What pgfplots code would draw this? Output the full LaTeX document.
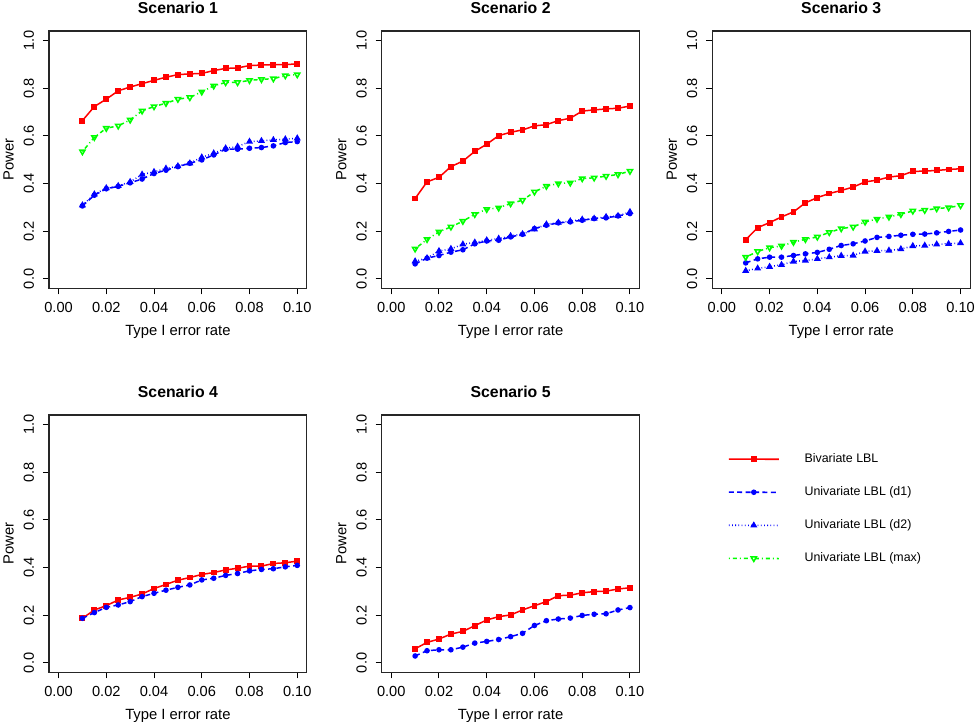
\documentclass[border=0pt]{standalone}
\usepackage{fontspec}
\setmainfont{Liberation Sans}
\usepackage{pgfplots}
\usepackage{pgfplotstable}
\pgfplotsset{compat=1.18}
\definecolor{rred}{RGB}{255,0,0}
\definecolor{rblue}{RGB}{0,0,255}
\definecolor{rgreen}{RGB}{0,255,0}

\pgfplotstableread{
x biv d1 d2 mx
0.010 0.664 0.306 0.309 0.534
0.015 0.723 0.351 0.355 0.594
0.020 0.754 0.378 0.381 0.632
0.025 0.789 0.388 0.390 0.642
0.030 0.805 0.403 0.407 0.667
0.035 0.819 0.419 0.438 0.705
0.040 0.833 0.442 0.449 0.723
0.045 0.846 0.456 0.463 0.737
0.050 0.857 0.471 0.473 0.754
0.055 0.860 0.485 0.485 0.761
0.060 0.862 0.499 0.510 0.785
0.065 0.874 0.520 0.527 0.810
0.070 0.883 0.544 0.548 0.824
0.075 0.885 0.544 0.555 0.824
0.080 0.895 0.548 0.576 0.833
0.085 0.897 0.551 0.579 0.837
0.090 0.899 0.558 0.583 0.840
0.095 0.899 0.572 0.586 0.853
0.100 0.902 0.576 0.590 0.857
}\scA
\pgfplotstableread{
x biv d1 d2 mx
0.010 0.337 0.063 0.074 0.126
0.015 0.407 0.087 0.087 0.166
0.020 0.426 0.098 0.117 0.197
0.025 0.471 0.112 0.126 0.218
0.030 0.494 0.122 0.145 0.242
0.035 0.535 0.147 0.153 0.271
0.040 0.565 0.159 0.162 0.292
0.045 0.601 0.162 0.169 0.298
0.050 0.615 0.176 0.180 0.316
0.055 0.625 0.187 0.188 0.330
0.060 0.642 0.211 0.208 0.365
0.065 0.647 0.225 0.229 0.389
0.070 0.664 0.235 0.236 0.400
0.075 0.674 0.239 0.242 0.403
0.080 0.704 0.246 0.249 0.421
0.085 0.709 0.253 0.253 0.424
0.090 0.713 0.256 0.260 0.431
0.095 0.716 0.264 0.264 0.438
0.100 0.725 0.274 0.281 0.452
}\scB
\pgfplotstableread{
x biv d1 d2 mx
0.010 0.164 0.067 0.034 0.091
0.015 0.215 0.084 0.044 0.115
0.020 0.236 0.091 0.051 0.131
0.025 0.260 0.091 0.059 0.138
0.030 0.281 0.098 0.073 0.154
0.035 0.319 0.105 0.077 0.166
0.040 0.341 0.111 0.084 0.176
0.045 0.358 0.124 0.091 0.195
0.050 0.371 0.140 0.097 0.211
0.055 0.385 0.147 0.098 0.218
0.060 0.407 0.159 0.115 0.239
0.065 0.414 0.174 0.118 0.251
0.070 0.427 0.178 0.119 0.260
0.075 0.433 0.183 0.125 0.271
0.080 0.451 0.187 0.138 0.285
0.085 0.452 0.188 0.140 0.288
0.090 0.455 0.193 0.145 0.295
0.095 0.459 0.199 0.147 0.299
0.100 0.462 0.205 0.150 0.308
}\scC
\pgfplotstableread{
x biv d1
0.010 0.187 0.187
0.015 0.222 0.211
0.020 0.240 0.233
0.025 0.264 0.243
0.030 0.275 0.257
0.035 0.289 0.278
0.040 0.312 0.292
0.045 0.329 0.305
0.050 0.347 0.317
0.055 0.358 0.327
0.060 0.371 0.348
0.065 0.379 0.355
0.070 0.390 0.367
0.075 0.397 0.375
0.080 0.406 0.386
0.085 0.406 0.392
0.090 0.417 0.395
0.095 0.420 0.403
0.100 0.427 0.409
}\scD
\pgfplotstableread{
x biv d1
0.010 0.059 0.029
0.015 0.086 0.051
0.020 0.100 0.055
0.025 0.121 0.055
0.030 0.132 0.066
0.035 0.156 0.083
0.040 0.180 0.090
0.045 0.194 0.098
0.050 0.201 0.110
0.055 0.222 0.124
0.060 0.240 0.157
0.065 0.257 0.177
0.070 0.282 0.184
0.075 0.284 0.188
0.080 0.294 0.199
0.085 0.299 0.204
0.090 0.301 0.206
0.095 0.310 0.222
0.100 0.315 0.232
}\scE

\pgfplotsset{
  panel/.style={
    scale only axis, width=128.9pt, height=128.7pt, anchor=north west,
    xmin=-0.004, xmax=0.104, ymin=-0.04, ymax=1.04,
    xtick={0,0.02,0.04,0.06,0.08,0.1},
    ytick={0,0.2,0.4,0.6,0.8,1},
    xtick pos=bottom, ytick pos=left, tick align=outside,
    major tick length=3pt,
    every tick/.style={black, line width=0.5pt},
    axis line style={black!85, line width=0.6pt},
    /pgf/number format/assume math mode=true,
    scaled ticks=false,
    xticklabel style={/pgf/number format/fixed, /pgf/number format/fixed zerofill, /pgf/number format/precision=2},
    yticklabel style={/pgf/number format/fixed, /pgf/number format/fixed zerofill, /pgf/number format/precision=1},
    ticklabel style={font=\fontsize{7.3}{8}\selectfont},
    xticklabel style={anchor=base, yshift=-8.8pt},
    yticklabel style={rotate=90, anchor=base, yshift=4.6pt},
    title style={at={(0.5,1)}, anchor=base, yshift=2.6pt, font=\bfseries\fontsize{7.9}{9}\selectfont},
    xlabel style={at={(0.5,0)}, anchor=base, yshift=-23.4pt, font=\fontsize{7.4}{9}\selectfont},
    ylabel style={at={(0,0.5)}, anchor=base, yshift=17.7pt, font=\fontsize{7.4}{9}\selectfont},
    xlabel={Type I error rate}, ylabel={Power},
  },
  sbiv/.style={color=rred, line width=0.75pt, mark=square*, mark size=1.1pt, mark options={solid}},
  sd1/.style={color=rblue, line width=0.75pt, dash pattern=on 2.5pt off 1.7pt, mark=*, mark size=1.0pt, mark options={solid}},
  sd2/.style={color=rblue, line width=0.75pt, dash pattern=on 0.4pt off 1.2pt, mark=triangle*, mark size=1.3pt, mark options={solid}},
  smx/.style={color=rgreen, line width=0.75pt, dash pattern=on 0.5pt off 1.5pt on 2pt off 1.5pt, mark=triangle, mark size=1.5pt, mark options={solid, rotate=180}},
}

\begin{document}
\begin{tikzpicture}
\useasboundingbox (0,0) rectangle (487.5pt,-361pt);
\begin{axis}[panel, at={(24.5pt,-15.5pt)}, title={Scenario 1}]
\addplot[sbiv] table[x=x,y=biv]{\scA};
\addplot[sd1] table[x=x,y=d1]{\scA};
\addplot[sd2] table[x=x,y=d2]{\scA};
\addplot[smx] table[x=x,y=mx]{\scA};
\end{axis}
\begin{axis}[panel, at={(190.85pt,-15.5pt)}, title={Scenario 2}]
\addplot[sbiv] table[x=x,y=biv]{\scB};
\addplot[sd1] table[x=x,y=d1]{\scB};
\addplot[sd2] table[x=x,y=d2]{\scB};
\addplot[smx] table[x=x,y=mx]{\scB};
\end{axis}
\begin{axis}[panel, at={(356.15pt,-15.5pt)}, title={Scenario 3}]
\addplot[sbiv] table[x=x,y=biv]{\scC};
\addplot[sd1] table[x=x,y=d1]{\scC};
\addplot[sd2] table[x=x,y=d2]{\scC};
\addplot[smx] table[x=x,y=mx]{\scC};
\end{axis}
\begin{axis}[panel, at={(24.5pt,-207.5pt)}, title={Scenario 4}]
\addplot[sbiv] table[x=x,y=biv]{\scD};
\addplot[sd1] table[x=x,y=d1]{\scD};
\end{axis}
\begin{axis}[panel, at={(190.85pt,-207.5pt)}, title={Scenario 5}]
\addplot[sbiv] table[x=x,y=biv]{\scE};
\addplot[sd1] table[x=x,y=d1]{\scE};
\end{axis}
\begin{axis}[scale only axis, width=128.9pt, height=128.7pt, anchor=north west,
  at={(356.15pt,-207.5pt)}, hide axis, xmin=0, xmax=1, ymin=0, ymax=1,
  legend cell align=left,
  legend image code/.code={%
    \draw[#1, mark=none, line width=0.8pt] (0pt,0.05pt) -- (25pt,-0.05pt);
    \draw[#1, solid] plot coordinates {(12.5pt,0pt)};},
  legend style={draw=none, fill=none, at={(0.0609,0.851)}, anchor=north west,
    inner sep=0pt, outer sep=0pt, row sep=10.75pt, column sep=0pt,
    /tikz/every odd column/.append style={column sep=12.5pt},
    font=\fontsize{6.2}{7}\selectfont,
    nodes={inner sep=0pt, text height=4.5pt, text depth=1.3pt}},
]
\addlegendimage{sbiv}
\addlegendentry{Bivariate LBL}
\addlegendimage{sd1}
\addlegendentry{Univariate LBL (d1)}
\addlegendimage{sd2}
\addlegendentry{Univariate LBL (d2)}
\addlegendimage{smx}
\addlegendentry{Univariate LBL (max)}
\end{axis}
\end{tikzpicture}
\end{document}
